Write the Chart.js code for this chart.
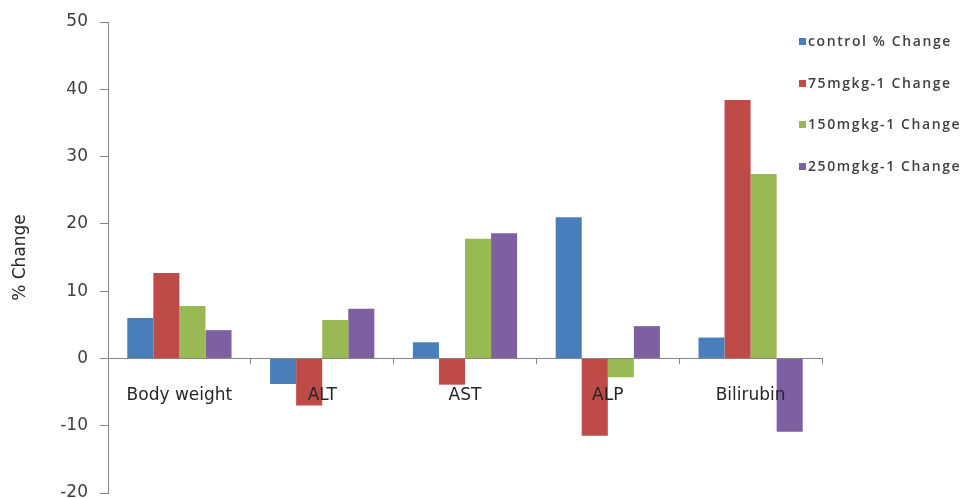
<!DOCTYPE html>
<html>
<head>
<meta charset="utf-8">
<script src="https://cdn.jsdelivr.net/npm/chart.js@4"></script>
<style>
  html, body { margin: 0; padding: 0; background: #fff; }
  #wrap { position: relative; width: 971px; height: 498px; }
  #legend { position: absolute; left: 799px; top: 34px; font-family: "Open Sans", sans-serif; font-size: 14px; font-weight: 600; color: #404040; letter-spacing: 1.6px; }
  #legend div { height: 41.5px; line-height: 14px; white-space: nowrap; }
  #legend span { display: inline-block; width: 7px; height: 7px; margin-right: 2px; vertical-align: 1px; }
</style>
</head>
<body>
<div id="wrap">
  <canvas id="grafico" width="971" height="498"></canvas>
  <div id="legend"></div>
</div>
<script>
// ----------- DADOS -----------
const categorias = ["Body weight", "ALT", "AST", "ALP", "Bilirubin"];
const series = ["control % Change", "75mgkg-1 Change", "150mgkg-1 Change", "250mgkg-1 Change"];
const controle = [6.0, -3.8, 2.4, 21.0, 3.1];
const dose75 = [12.7, -7.0, -3.9, -11.5, 38.4];
const dose150 = [7.8, 5.7, 17.8, -2.8, 27.4];
const dose250 = [4.2, 7.4, 18.6, 4.8, -10.9];
const cores = ["#4a7ebb", "#be4b48", "#98b954", "#7d60a0"];

const valores = [controle, dose75, dose150, dose250];
const eixo = "#868686";
const fonte = "DejaVu Sans";

new Chart(document.getElementById("grafico"), {
  type: "bar",
  data: {
    labels: categorias,
    datasets: series.map((nome, i) => ({
      label: nome,
      data: valores[i],
      backgroundColor: cores[i],
      barPercentage: 1,
      categoryPercentage: 0.73
    }))
  },
  options: {
    responsive: false,
    animation: false,
    layout: { padding: { top: 22, right: 149, bottom: 5, left: 0 } },
    plugins: { legend: { display: false }, tooltip: { enabled: false } },
    scales: {
      x: {
        position: { y: 0 },
        afterFit: s => { s.paddingTop = 0; s.paddingBottom = 0; },
        grid: { display: true, drawOnChartArea: false, offset: true, tickLength: 5, color: eixo },
        border: { color: eixo },
        ticks: { z: 1, color: "#262626", padding: 22, font: { family: fonte, size: 17 } }
      },
      y: {
        min: -20,
        max: 50,
        afterFit: s => { s.width = 108; s.paddingTop = 0; s.paddingBottom = 0; },
        grid: { drawOnChartArea: false, tickLength: 8, color: eixo },
        border: { color: eixo },
        ticks: { stepSize: 10, color: "#404040", padding: 12, font: { family: fonte, size: 17 } },
        title: { display: true, text: "% Change", color: "#262626", padding: { top: 10, bottom: 0 }, font: { family: fonte, size: 17 } }
      }
    }
  }
});

document.getElementById("legend").innerHTML = series
  .map((nome, i) => `<div><span style="background:${cores[i]}"></span>${nome}</div>`)
  .join("");
</script>
</body>
</html>
